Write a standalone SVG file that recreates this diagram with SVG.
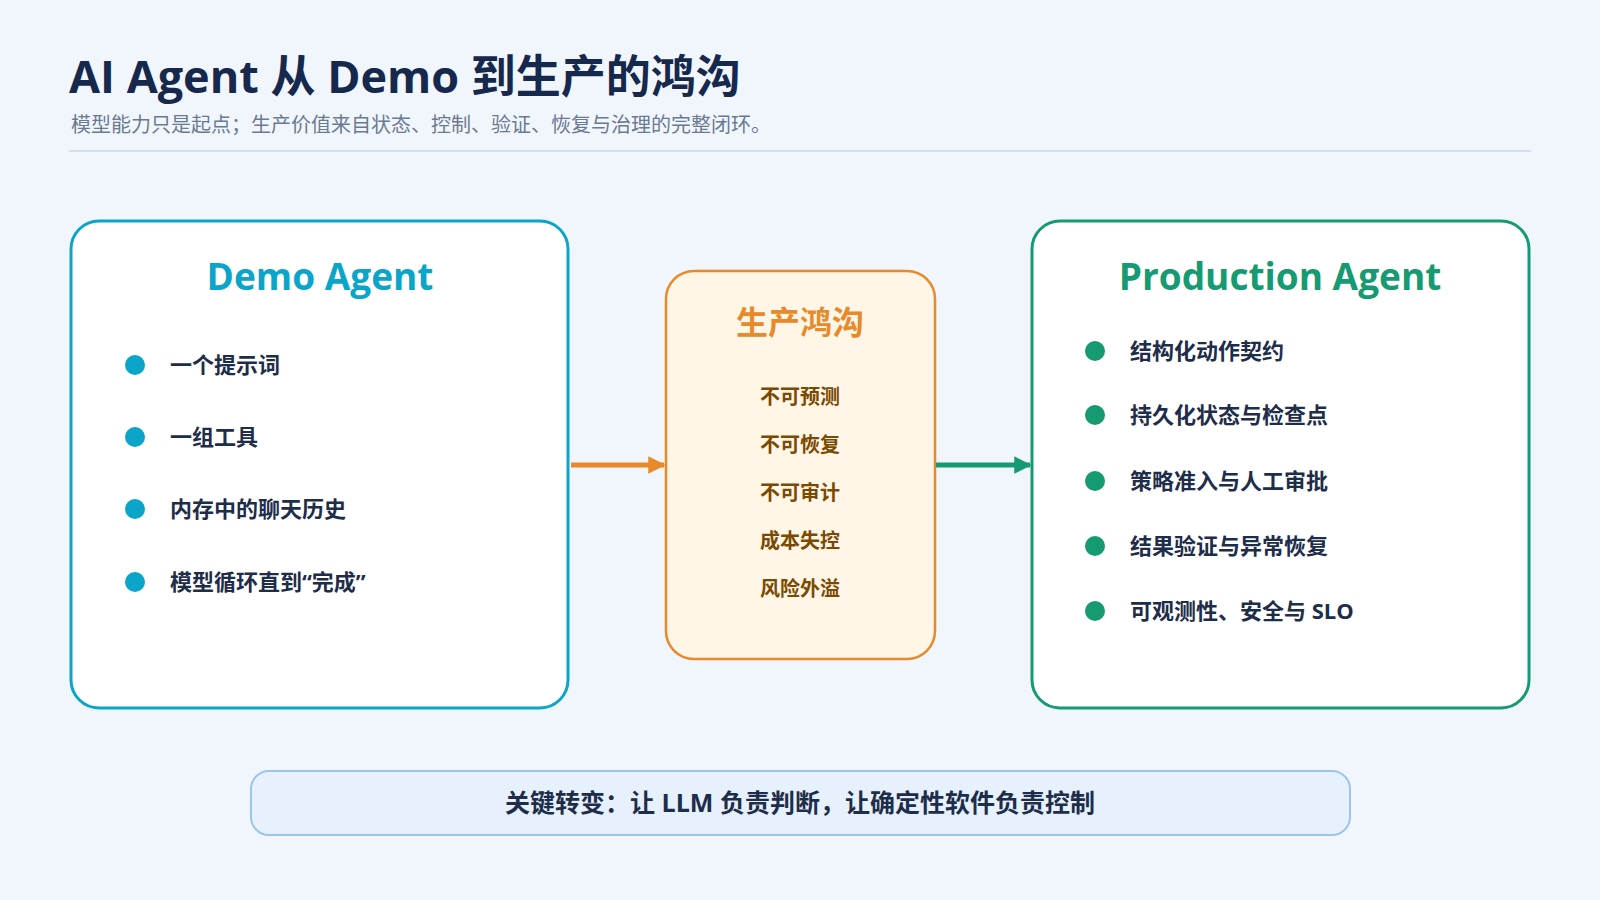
<svg xmlns="http://www.w3.org/2000/svg" width="1600" height="900" viewBox="0 0 1600 900">
<style>
text{font-family:"Open Sans","Noto Sans CJK SC",sans-serif}
.b{font-size:22px;font-weight:700;fill:#1e2d4a}
.m{font-size:20px;font-weight:700;fill:#7a4a00;text-anchor:middle}
.h{font-size:37px;font-weight:700;text-anchor:middle}
</style>
<defs>
<marker id="ao" viewBox="0 0 10 10" refX="9" refY="5" markerWidth="3.5" markerHeight="3.5" orient="auto"><path d="M0,0L10,5L0,10z" fill="#e8892a"/></marker>
<marker id="ag" viewBox="0 0 10 10" refX="9" refY="5" markerWidth="3.5" markerHeight="3.5" orient="auto"><path d="M0,0L10,5L0,10z" fill="#169a72"/></marker>
</defs>
<rect width="1600" height="900" fill="#f1f6fd"/>
<text x="69" y="93" font-size="45" font-weight="700" fill="#16294d">AI Agent 从 Demo 到生产的鸿沟</text>
<text x="71" y="132" font-size="20" fill="#6b7a90">模型能力只是起点；生产价值来自状态、控制、验证、恢复与治理的完整闭环。</text>
<line x1="69" y1="151" x2="1531" y2="151" stroke="#d3dfec" stroke-width="2"/>
<g id="demo">
<rect x="71" y="221" width="497" height="487" rx="28" fill="#fff" stroke="#0aa5c9" stroke-width="3"/>
<text x="320" y="290" class="h" fill="#0aa5c9">Demo Agent</text>
<g fill="#0aa5c9"><circle cx="135" cy="365" r="10"/><circle cx="135" cy="437" r="10"/><circle cx="135" cy="509" r="10"/><circle cx="135" cy="582" r="10"/></g>
<text x="170" y="373" class="b">一个提示词</text>
<text x="170" y="445" class="b">一组工具</text>
<text x="170" y="517" class="b">内存中的聊天历史</text>
<text x="170" y="590" class="b">模型循环直到“完成”</text>
</g>
<g id="gap">
<rect x="666" y="271" width="269" height="388" rx="28" fill="#fff6e8" stroke="#e8892a" stroke-width="2.5"/>
<text x="800" y="334" font-size="32" font-weight="700" fill="#e8892a" text-anchor="middle">生产鸿沟</text>
<text x="800" y="404" class="m">不可预测</text>
<text x="800" y="452" class="m">不可恢复</text>
<text x="800" y="500" class="m">不可审计</text>
<text x="800" y="548" class="m">成本失控</text>
<text x="800" y="596" class="m">风险外溢</text>
</g>
<g id="prod">
<rect x="1032" y="221" width="497" height="487" rx="28" fill="#fff" stroke="#169a72" stroke-width="3"/>
<text x="1280" y="290" class="h" fill="#169a72">Production Agent</text>
<g fill="#169a72"><circle cx="1095" cy="351" r="10"/><circle cx="1095" cy="415" r="10"/><circle cx="1095" cy="481" r="10"/><circle cx="1095" cy="546" r="10"/><circle cx="1095" cy="611" r="10"/></g>
<text x="1130" y="359" class="b">结构化动作契约</text>
<text x="1130" y="423" class="b">持久化状态与检查点</text>
<text x="1130" y="489" class="b">策略准入与人工审批</text>
<text x="1130" y="554" class="b">结果验证与异常恢复</text>
<text x="1130" y="619" class="b">可观测性、安全与 SLO</text>
</g>
<g id="connectors">
<line x1="571" y1="465" x2="664" y2="465" stroke="#e8892a" stroke-width="5" marker-end="url(#ao)"/>
<line x1="936" y1="465" x2="1030" y2="465" stroke="#169a72" stroke-width="5" marker-end="url(#ag)"/>
</g>
<g id="key">
<rect x="251" y="771" width="1099" height="64" rx="18" fill="#e6f1fd" stroke="#9cc4ec" stroke-width="2"/>
<text x="800" y="812" font-size="25" font-weight="700" fill="#1e2d4a" text-anchor="middle">关键转变：让 LLM 负责判断，让确定性软件负责控制</text>
</g>
</svg>
